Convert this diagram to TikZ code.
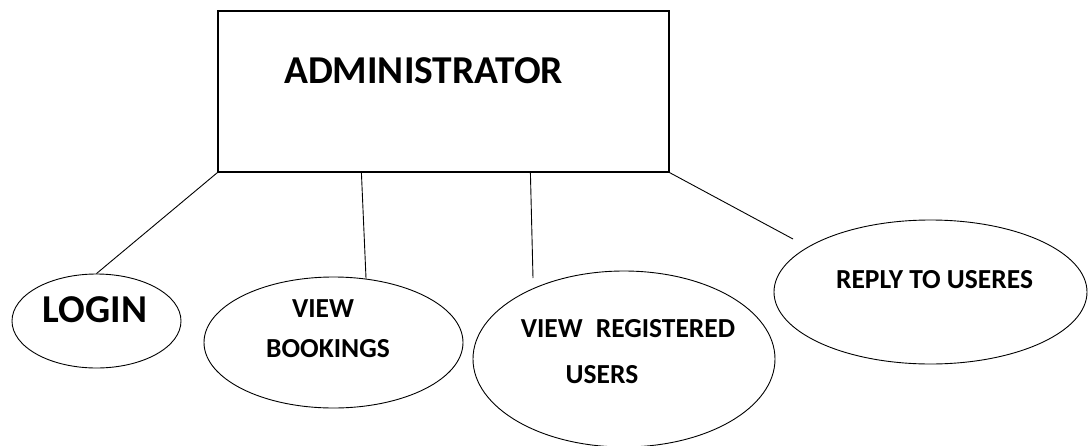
\documentclass[tikz,border=0pt]{standalone}
\usepackage{fontspec}
\setmainfont{Carlito}
\usetikzlibrary{shapes.geometric}
\begin{document}
\begin{tikzpicture}[x=1pt,y=-1pt,
  box/.style={draw=black,line width=1.2pt,inner sep=0pt,minimum width=451pt,minimum height=161pt},
  oval/.style={draw=black,line width=0.9pt,ellipse,inner sep=0pt},
  lbl/.style={inner sep=0pt,font=\bfseries},
  big/.style={lbl,font=\fontsize{39.5}{44}\selectfont\bfseries},
  small/.style={lbl,font=\fontsize{27.5}{30}\selectfont\bfseries},
  conn/.style={draw=black,line width=0.9pt}]
\useasboundingbox (0,0) rectangle (1088,445);
% shapes
\node[box] (admin) at (443.5,91.5) {};
\node[oval,minimum width=169pt,minimum height=94pt] (login) at (96.5,321) {};
\node[oval,minimum width=259pt,minimum height=131pt] (book) at (333.5,342.5) {};
\node[oval,minimum width=302pt,minimum height=176pt] (reg) at (624,359) {};
\node[oval,minimum width=313pt,minimum height=144pt] (reply) at (930.5,292) {};
% texts
\node[big] (tadmin) at (423.5,70.5) {ADMINISTRATOR};
\node[big] (tlogin) at (95,309.5) {LOGIN};
\node[small] (tview1) at (323,308.5) {VIEW};
\node[small] (tbook) at (328,348.5) {BOOKINGS};
\node[small] (tview2) at (628,328.5) {VIEW\hspace{13pt}REGISTERED};
\node[small] (tusers) at (602,375) {USERS};
\node[small] (treply) at (934.5,279.5) {REPLY TO USERES};
% connector anchors
\coordinate (a2) at ([xshift=144pt]admin.south west);
\coordinate (a3) at ([xshift=313pt]admin.south west);
\coordinate (rend) at (793,239);
\coordinate (gend) at (533,278);
% connectors
\draw[conn] (admin.south west) -- (login.north);
\draw[conn] (a2) -- (book.63);
\draw[conn] (a3) -- (gend);
\draw[conn] (admin.south east) -- (rend);
\end{tikzpicture}
\end{document}
